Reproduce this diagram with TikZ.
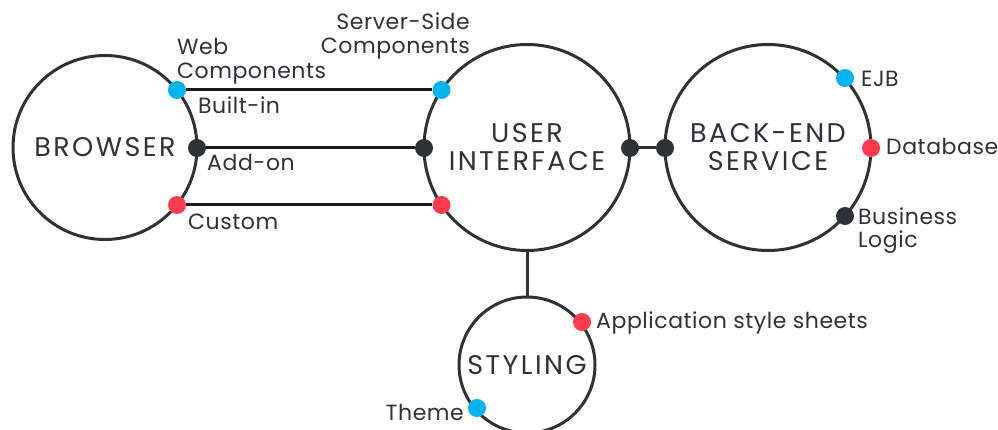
\documentclass[tikz,border=0pt]{standalone}
\usepackage{fontspec}
\setmainfont{Poppins}
\newfontfamily\hubfont{Poppins}[LetterSpace=9]
\newfontfamily\lblfont{Poppins}[LetterSpace=2.5]
\usepackage{tikz}
\usetikzlibrary{positioning}

\definecolor{darkgrey}{RGB}{45,50,54}
\definecolor{skyblue}{RGB}{3,180,240}
\definecolor{warmred}{RGB}{255,59,79}

\begin{document}
\begin{tikzpicture}[x=1pt,y=-1pt,
  hub/.style={circle,draw=darkgrey,line width=3pt,inner sep=0pt,outer sep=0pt,
    align=center,text=darkgrey,font=\hubfont\fontsize{27}{28}\selectfont},
  dot/.style={circle,inner sep=0pt,minimum size=18pt},
  lbl/.style={text=darkgrey,align=left,inner sep=0pt,font=\lblfont\fontsize{22}{24}\selectfont},
  link/.style={line width=3pt,draw=black!90}]
\useasboundingbox (0,0) rectangle (998,430);
% the four circles
\node[hub,minimum size=184pt] (browser) at (105,147.5) {BROWSER};
\node[hub,minimum size=206pt] (ui) at (527,147.5) {USER\\INTERFACE};
\node[hub,minimum size=206pt] (backend) at (768,147.5) {BACK-END\\SERVICE};
\node[hub,minimum size=136pt] (styling) at (527,365) {STYLING};
% dots
\node[dot,fill=skyblue] (bw-blue) at (177,90) {};
\node[dot,fill=darkgrey] (bw-dark) at (197,148) {};
\node[dot,fill=warmred] (bw-red) at (177,205) {};
\node[dot,fill=skyblue] (ui-blue) at (441.5,90) {};
\node[dot,fill=darkgrey] (ui-dark) at (424,148) {};
\node[dot,fill=warmred] (ui-red) at (441.5,205) {};
\node[dot,fill=darkgrey] (ui-right) at (630,148) {};
\node[dot,fill=darkgrey] (be-left) at (665,148) {};
\node[dot,fill=skyblue] (be-blue) at (845,78) {};
\node[dot,fill=warmred] (be-red) at (871,148) {};
\node[dot,fill=darkgrey] (be-dark) at (845,216) {};
\node[dot,fill=warmred] (st-red) at (582,322) {};
\node[dot,fill=skyblue] (st-blue) at (477,408) {};
% connectors
\draw[link] (bw-blue) -- (ui-blue);
\draw[link] (bw-dark) -- (ui-dark);
\draw[link] (bw-red) -- (ui-red);
\draw[link,draw=darkgrey] (ui-right) -- (be-left);
\draw[link,draw=darkgrey] (ui) -- (styling);
% labels (base = last line)
\node[lbl,anchor=base west] (l-web) at (177,79) {Web\\Components};
\node[lbl,anchor=base east,align=right] (l-server) at (470,54) {Server-Side\\Components};
\node[lbl,anchor=base west] (l-built) at (198,114) {Built-in};
\node[lbl,anchor=base west] (l-addon) at (207,171) {Add-on};
\node[lbl,anchor=base west] (l-custom) at (188,230) {Custom};
\node[lbl,anchor=base west] (l-ejb) at (861,87) {EJB};
\node[lbl,anchor=base west] (l-db) at (886,155) {Database};
\node[lbl,anchor=base west] (l-logic) at (858,248) {Business\\Logic};
\node[lbl,anchor=base west] (l-sheets) at (596,328) {Application style sheets};
\node[lbl,anchor=base east] (l-theme) at (464,420) {Theme};
\end{tikzpicture}
\end{document}
